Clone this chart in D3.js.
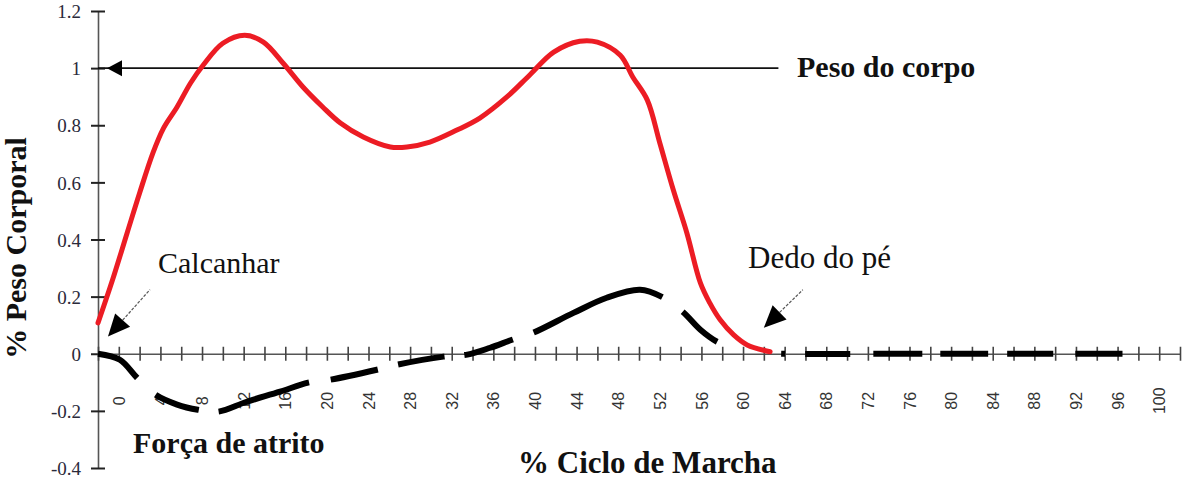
<!DOCTYPE html>
<html>
<head>
<meta charset="utf-8">
<script src="https://cdn.jsdelivr.net/npm/d3@7"></script>
<style>
  body { margin: 0; background: #fff; }
  svg { display: block; }
</style>
</head>
<body>
<div id="chart"></div>
<script>
// valores: % do ciclo de marcha -> fracção do peso corporal
const pesoX = [-2, -0.6, 0.8, 2.0, 3.3, 4.3, 5.6, 6.9, 8.1, 10.0, 12.1, 13.9, 15.8, 17.7, 19.6, 21.3, 23.5, 26.1,
  27.7, 29.9, 32.5, 34.7, 37.3, 39.5, 41.8, 44.3, 46.0, 48.2, 49.4, 50.8, 52.0, 53.3, 54.6, 55.9, 56.8, 57.8, 59.1, 60.4, 62.6];
const pesoY = [0.108, 0.259, 0.423, 0.563, 0.705, 0.79, 0.864, 0.948, 1.01, 1.087, 1.115, 1.091, 1.017, 0.934, 0.864, 0.808, 0.759, 0.724,
  0.724, 0.741, 0.783, 0.825, 0.899, 0.976, 1.056, 1.094, 1.091, 1.045, 0.969, 0.888, 0.738, 0.573, 0.423, 0.248, 0.178, 0.119, 0.066, 0.031, 0.007];

const atritoX = [-2, 0.1, 1.75, 3.5, 5.6, 7.6, 9.5, 12.3, 15.5, 18.2, 20.3, 24.8, 26.8, 31.2, 33.5, 35.7, 37.8, 39.8,
  43.7, 46.9, 50.1, 52.2, 54.2, 55.9, 57.5, 60.2, 63.8, 75, 85, 96.5];
const atritoY = [0, -0.021, -0.084, -0.143, -0.178, -0.196, -0.203, -0.168, -0.133, -0.101, -0.091, -0.056, -0.038, -0.01, -0.003, 0.021, 0.049, 0.073,
  0.143, 0.196, 0.224, 0.199, 0.147, 0.084, 0.042, 0.007, 0, 0, 0, 0];

const yTicks = [-0.4, -0.2, 0, 0.2, 0.4, 0.6, 0.8, 1, 1.2];
const yTickLabels = ["-0.4", "-0.2", "0", "0.2", "0.4", "0.6", "0.8", "1", "1.2"];
const xTicks = d3.range(-2, 103, 2);
const xTickLabels = ["0", "4", "8", "12", "16", "20", "24", "28", "32", "36", "40", "44", "48",
  "52", "56", "60", "64", "68", "72", "76", "80", "84", "88", "92", "96", "100"];

const pesoCorpo = 1;        // linha de referência
const pesoCorpoFim = 63.4;  // onde a linha termina (% ciclo)

// tracejado irregular do desenho original
const atritoDash = "48,25,46,20,95,22,48,21,47,20,51,22,139,25,46,66,4,20,45,23,49,18,48,19,46,22,47,400";

const width = 1192, height = 492;
const serif = "'Liberation Serif', 'Times New Roman', serif";
const sans = "'Liberation Sans', Arial, sans-serif";

const svg = d3.select("#chart").append("svg")
    .attr("width", width)
    .attr("height", height);

const x = d3.scaleLinear().domain([-2, 102]).range([98, 1180]);
const y = d3.scaleLinear().domain([-0.4, 1.2]).range([468, 11]);

// eixo y
const yAxis = svg.append("g")
    .attr("transform", `translate(${x(-2)},0)`)
    .call(d3.axisLeft(y).tickValues(yTicks).tickSize(0).tickSizeOuter(0)
        .tickFormat((d, i) => yTickLabels[i]));
yAxis.select(".domain").attr("stroke", "#555").attr("stroke-width", 1.6);
yAxis.selectAll(".tick").append("line")
    .attr("x1", -7).attr("x2", 7)
    .attr("stroke", "#222").attr("stroke-width", 2);
yAxis.selectAll("text")
    .attr("x", -17)
    .attr("dy", "0.35em")
    .attr("font-family", serif)
    .attr("font-size", 19)
    .attr("fill", "#2a2a3a");

// eixo x
const xAxis = svg.append("g")
    .attr("transform", `translate(0,${y(0)})`)
    .call(d3.axisBottom(x).tickValues(xTicks).tickSize(0).tickSizeOuter(0)
        .tickFormat(d => xTickLabels.includes(String(d)) ? String(d) : ""));
xAxis.select(".domain").attr("stroke", "#555").attr("stroke-width", 1.6);
xAxis.selectAll(".tick").append("line")
    .attr("y1", -7).attr("y2", 7)
    .attr("stroke", "#444").attr("stroke-width", 1.6);
xAxis.selectAll("text")
    .attr("y", 0)
    .attr("dy", "0.35em")
    .attr("transform", "translate(0,47) rotate(-90)")
    .attr("text-anchor", "middle")
    .attr("font-family", sans)
    .attr("font-size", 16)
    .attr("fill", "#333");

// linha do peso do corpo
svg.append("line")
    .attr("x1", x(-2)).attr("x2", x(pesoCorpoFim))
    .attr("y1", y(pesoCorpo)).attr("y2", y(pesoCorpo))
    .attr("stroke", "#111").attr("stroke-width", 1.6);
svg.append("path")
    .attr("d", `M${x(-2) + 9},${y(pesoCorpo)} l15,-8 l0,16 z`)
    .attr("fill", "#000");

const line = d3.line()
    .x(d => x(d[0]))
    .y(d => y(d[1]))
    .curve(d3.curveCatmullRom.alpha(0.5));

// força de atrito (tracejado)
svg.append("path")
    .datum(atritoX.map((v, i) => [v, atritoY[i]]))
    .attr("d", line)
    .attr("fill", "none")
    .attr("stroke", "#000")
    .attr("stroke-width", 6)
    .attr("stroke-dasharray", atritoDash);

// força vertical
svg.append("path")
    .datum(pesoX.map((v, i) => [v, pesoY[i]]))
    .attr("d", line)
    .attr("fill", "none")
    .attr("stroke", "#ec1c24")
    .attr("stroke-width", 5)
    .attr("stroke-linejoin", "round")
    .attr("stroke-linecap", "round");

// setas de anotação
function arrow(tipX, tipY, dx, dy) {
    const px = x(tipX), py = y(tipY);
    const len = Math.hypot(dx, dy), ux = dx / len, uy = dy / len;
    const bx = px + ux * 22, by = py + uy * 22;
    svg.append("line")
        .attr("x1", bx).attr("y1", by)
        .attr("x2", px + dx).attr("y2", py + dy)
        .attr("stroke", "#555").attr("stroke-width", 1.2)
        .attr("stroke-dasharray", "3,1.5");
    svg.append("path")
        .attr("d", `M${px},${py} L${bx - uy * 10},${by + ux * 10} L${bx + uy * 10},${by - ux * 10} Z`)
        .attr("fill", "#000");
}
arrow(-1.04, 0.06, 42, -47);
arrow(62.0, 0.091, 39, -38);

// textos
const labels = [
    { t: "Peso do corpo", x: 797, y: 77, size: 30, bold: true },
    { t: "Calcanhar", x: 158, y: 273, size: 30, bold: false },
    { t: "Dedo do pé", x: 748, y: 268, size: 31, bold: false },
    { t: "Força de atrito", x: 133, y: 453, size: 30, bold: true },
    { t: "% Ciclo de Marcha", x: 518, y: 473, size: 31, bold: true }
];
svg.selectAll("text.note")
    .data(labels)
    .join("text")
    .attr("class", "note")
    .attr("x", d => d.x)
    .attr("y", d => d.y)
    .attr("font-family", serif)
    .attr("font-size", d => d.size)
    .attr("font-weight", d => d.bold ? "bold" : "normal")
    .attr("fill", "#111")
    .text(d => d.t);

svg.append("text")
    .attr("transform", "translate(26,248) rotate(-90)")
    .attr("text-anchor", "middle")
    .attr("font-family", serif)
    .attr("font-size", 30)
    .attr("font-weight", "bold")
    .attr("fill", "#111")
    .text("% Peso Corporal");
</script>
</body>
</html>
